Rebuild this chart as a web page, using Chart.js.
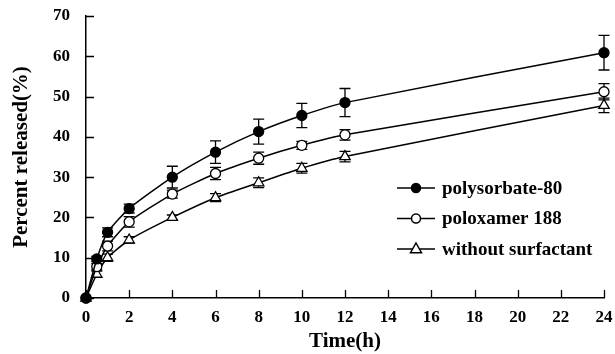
<!DOCTYPE html>
<html>
<head>
<meta charset="utf-8">
<script src="https://cdn.jsdelivr.net/npm/chart.js@4/dist/chart.umd.min.js"></script>
<style>
  html, body { margin: 0; padding: 0; background: #fff; }
  #wrap { width: 615px; height: 354px; }
</style>
</head>
<body>
<div id="wrap"><canvas id="chart"></canvas></div>
<script>
// 時間 (h)
const times = [0, 0.5, 1, 2, 4, 6, 8, 10, 12, 24];

// 放出率 (%) と標準偏差
const labels = ['polysorbate-80', 'poloxamer 188', 'without surfactant'];
const polysorbate = [0, 9.7, 16.3, 22.2, 30.0, 36.2, 41.3, 45.3, 48.5, 60.9];
const polysorbateErr = [0, 0.6, 1.1, 1.1, 2.7, 2.8, 3.1, 3.0, 3.5, 4.3];
const poloxamer = [0, 7.8, 12.9, 18.9, 25.8, 30.9, 34.7, 37.9, 40.5, 51.2];
const poloxamerErr = [0, 0.8, 1.2, 1.3, 1.0, 1.5, 1.5, 1.0, 1.3, 2.0];
const noSurfactant = [0, 5.9, 10.0, 14.4, 20.0, 24.9, 28.6, 32.2, 35.1, 47.8];
const noSurfactantErr = [0, 0.8, 0.9, 0.8, 0.6, 1.0, 1.2, 1.2, 1.3, 1.8];

const yTicks = [0, 10, 20, 30, 40, 50, 60, 70];
const xTicks = [0, 2, 4, 6, 8, 10, 12, 14, 16, 18, 20, 22, 24];

const serif = "'Liberation Serif', 'Times New Roman', serif";

function toPoints(ys, errs) {
    return times.map((t, i) => ({ x: t, y: ys[i], err: errs[i] }));
}

// エラーバー
const errorBars = {
    id: 'errorBars',
    beforeDatasetsDraw(chart) {
        const ctx = chart.ctx;
        const xs = chart.scales.x, ys = chart.scales.y;
        ctx.save();
        ctx.strokeStyle = '#000';
        ctx.lineWidth = 1.3;
        chart.data.datasets.forEach(ds => {
            ds.data.forEach(p => {
                if (!p.err) return;
                const px = xs.getPixelForValue(p.x);
                const top = ys.getPixelForValue(p.y + p.err);
                const bot = ys.getPixelForValue(p.y - p.err);
                ctx.beginPath();
                ctx.moveTo(px, top); ctx.lineTo(px, bot);
                ctx.moveTo(px - 5.5, top); ctx.lineTo(px + 5.5, top);
                ctx.moveTo(px - 5.5, bot); ctx.lineTo(px + 5.5, bot);
                ctx.stroke();
            });
        });
        ctx.restore();
    }
};

// 内向きの目盛り
const innerTicks = {
    id: 'innerTicks',
    afterDraw(chart) {
        const ctx = chart.ctx;
        const { left, bottom } = chart.chartArea;
        const xs = chart.scales.x, ys = chart.scales.y;
        ctx.save();
        ctx.strokeStyle = '#000';
        ctx.lineWidth = 1.3;
        ctx.beginPath();
        yTicks.forEach(v => {
            const py = Math.round(ys.getPixelForValue(v)) + 0.5;
            ctx.moveTo(left, py); ctx.lineTo(left + 8, py);
        });
        xTicks.forEach(v => {
            const px = Math.round(xs.getPixelForValue(v)) + 0.5;
            ctx.moveTo(px, bottom); ctx.lineTo(px, bottom - 8);
        });
        ctx.stroke();
        ctx.restore();
    }
};

function drawMarker(ctx, style, fill, x, y, r) {
    ctx.beginPath();
    if (style === 'triangle') {
        ctx.moveTo(x, y - r * 1.2);
        ctx.lineTo(x + r * 1.1, y + r * 0.75);
        ctx.lineTo(x - r * 1.1, y + r * 0.75);
        ctx.closePath();
    } else {
        ctx.arc(x, y, r, 0, Math.PI * 2);
    }
    ctx.fillStyle = fill;
    ctx.fill();
    ctx.stroke();
}

// 凡例 (グラフ内)
const innerLegend = {
    id: 'innerLegend',
    afterDraw(chart) {
        const ctx = chart.ctx;
        const { right, top } = chart.chartArea;
        const x0 = right - 207;
        ctx.save();
        ctx.strokeStyle = '#000';
        ctx.lineWidth = 1.5;
        ctx.font = 'bold 19px ' + serif;
        ctx.textBaseline = 'middle';
        ctx.fillStyle = '#000';
        chart.data.datasets.forEach((ds, i) => {
            const y = top + 172 + i * 30.5;
            ctx.beginPath();
            ctx.moveTo(x0, y); ctx.lineTo(x0 + 38, y);
            ctx.stroke();
            drawMarker(ctx, ds.pointStyle, ds.pointBackgroundColor, x0 + 19, y, ds.pointStyle === 'triangle' ? 5 : 4.5);
            ctx.fillStyle = '#000';
            ctx.fillText(ds.label, x0 + 45, y + 1);
        });
        ctx.restore();
    }
};

function makeDataset(label, ys, errs, style, fill) {
    return {
        label: label,
        data: toPoints(ys, errs),
        borderColor: '#000',
        borderWidth: 1.5,
        pointStyle: style,
        pointRadius: style === 'triangle' ? 6 : 5,
        pointBackgroundColor: fill,
        pointBorderColor: '#000',
        pointBorderWidth: 1.3,
        tension: 0.2,
        clip: false
    };
}

new Chart(document.getElementById('chart'), {
    type: 'line',
    data: {
        datasets: [
            makeDataset(labels[0], polysorbate, polysorbateErr, 'circle', '#000'),
            makeDataset(labels[1], poloxamer, poloxamerErr, 'circle', '#fff'),
            makeDataset(labels[2], noSurfactant, noSurfactantErr, 'triangle', '#fff')
        ]
    },
    options: {
        responsive: true,
        maintainAspectRatio: false,
        animation: false,
        layout: { padding: { top: 16, right: 11, left: 0, bottom: 0 } },
        plugins: { legend: { display: false }, tooltip: { enabled: false } },
        scales: {
            x: {
                type: 'linear',
                min: 0, max: 24,
                afterBuildTicks: s => { s.ticks = xTicks.map(v => ({ value: v })); },
                afterFit: s => {
                    s.height = 56;
                    s.paddingLeft = 0;
                    s.paddingRight = 0;
                },
                grid: { display: false, drawTicks: false },
                border: { display: true, color: '#000', width: 1.5 },
                ticks: {
                    color: '#000', padding: 9,
                    font: { family: serif, size: 17, weight: 'bold' }
                },
                title: {
                    display: true, text: 'Time(h)', color: '#000', padding: 0,
                    font: { family: serif, size: 21, weight: 'bold' }
                }
            },
            y: {
                min: 0, max: 70,
                afterBuildTicks: s => { s.ticks = yTicks.map(v => ({ value: v })); },
                afterFit: s => {
                    s.width = 86;
                    s.paddingTop = 0;
                    s.paddingBottom = 0;
                },
                grid: { display: false, drawTicks: false },
                border: { display: true, color: '#000', width: 1.5 },
                ticks: {
                    color: '#000', padding: 16,
                    font: { family: serif, size: 17, weight: 'bold' }
                },
                title: {
                    display: true, text: 'Percent released(%)', color: '#000', padding: { top: 9, bottom: 0 },
                    font: { family: serif, size: 21, weight: 'bold' }
                }
            }
        }
    },
    plugins: [errorBars, innerTicks, innerLegend]
});
</script>
</body>
</html>
